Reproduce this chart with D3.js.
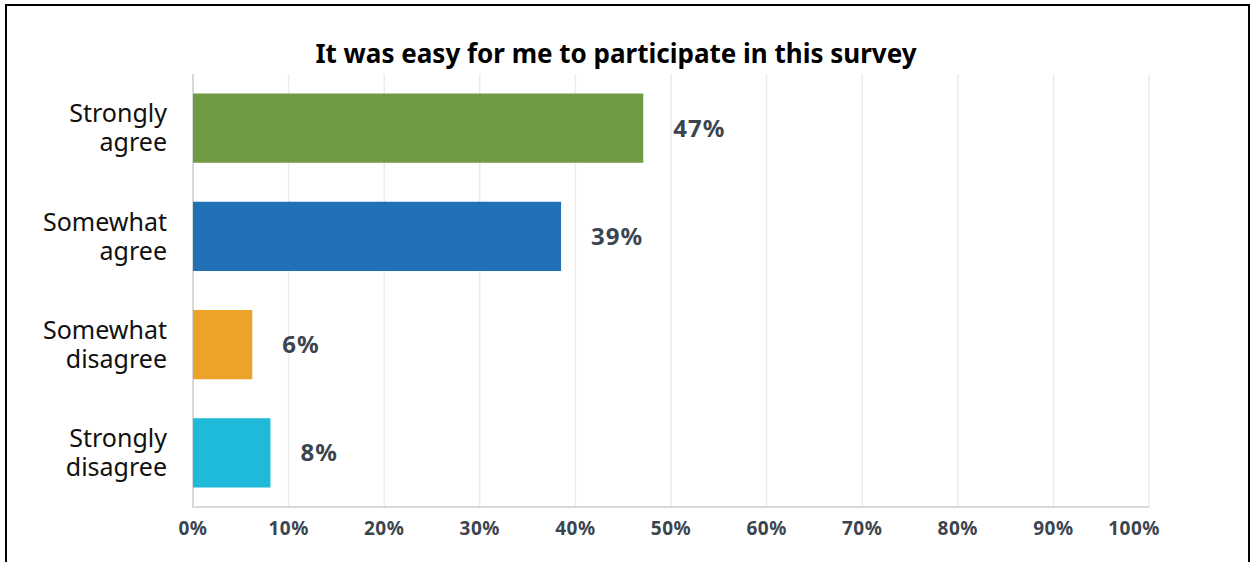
<!DOCTYPE html>
<html>
<head>
<meta charset="utf-8">
<script src="https://cdn.jsdelivr.net/npm/d3@7"></script>
<style>
  body { margin: 0; background: #fff; }
  svg { display: block; }
</style>
</head>
<body>
<div id="chart"></div>
<script>
// survey answers, top to bottom
var categories = ['Strongly agree', 'Somewhat agree', 'Somewhat disagree', 'Strongly disagree'];
var values = [47.1, 38.5, 6.2, 8.1];
var valueLabels = ['47%', '39%', '6%', '8%'];
var colors = ['#709a43', '#2270b5', '#eba428', '#1fbad9'];
var ticks = [0, 10, 20, 30, 40, 50, 60, 70, 80, 90, 100];

var W = 1255, H = 562;
var plotLeft = 193, plotRight = 1149, plotTop = 74, plotBottom = 507;

var svg = d3.select('#chart').append('svg').attr('width', W).attr('height', H);

// frame
svg.append('path')
    .attr('d', 'M6,' + H + 'V5H1249V' + H)
    .attr('fill', 'none').attr('stroke', '#000').attr('stroke-width', 2);

var x = d3.scaleLinear().domain([0, 100]).range([plotLeft, plotRight]);
var y = d3.scaleBand().domain(categories).range([plotTop, plotBottom]).paddingInner(0.36).paddingOuter(0.18);

// grid
svg.append('g').selectAll('line').data(ticks.slice(1)).enter().append('line')
    .attr('x1', function(d) { return x(d); }).attr('x2', function(d) { return x(d); })
    .attr('y1', plotTop).attr('y2', plotBottom)
    .attr('stroke', '#ebebeb').attr('stroke-width', 1.5);

// axis lines
svg.append('line').attr('x1', plotLeft).attr('x2', plotLeft).attr('y1', plotTop).attr('y2', plotBottom + 1)
    .attr('stroke', '#d9d9d9').attr('stroke-width', 2);
svg.append('line').attr('x1', plotLeft).attr('x2', plotRight).attr('y1', plotBottom).attr('y2', plotBottom)
    .attr('stroke', '#d9d9d9').attr('stroke-width', 2);

// bars
svg.append('g').selectAll('rect').data(values).enter().append('rect')
    .attr('x', x(0))
    .attr('y', function(d, i) { return y(categories[i]); })
    .attr('width', function(d) { return x(d) - x(0); })
    .attr('height', y.bandwidth())
    .attr('fill', function(d, i) { return colors[i]; });

// value labels
svg.append('g').selectAll('text').data(values).enter().append('text')
    .attr('x', function(d) { return x(d) + 30; })
    .attr('y', function(d, i) { return y(categories[i]) + y.bandwidth() / 2; })
    .attr('dy', '0.35em')
    .style('font-family', '"Noto Sans", sans-serif')
    .style('font-weight', 'bold').style('font-size', '24px').style('letter-spacing', '1px')
    .style('fill', '#3b4550')
    .text(function(d, i) { return valueLabels[i]; });

// category labels (two lines)
var cat = svg.append('g').selectAll('text').data(categories).enter().append('text')
    .attr('text-anchor', 'end')
    .attr('transform', function(d) { return 'translate(167,' + (y(d) + y.bandwidth() / 2) + ')'; })
    .style('font-family', '"Noto Sans", sans-serif')
    .style('font-size', '25px').style('fill', '#111');
cat.each(function(d) {
    var words = d.split(' ');
    var t = d3.select(this);
    t.append('tspan').attr('x', 0).attr('y', -14.5).attr('dy', '0.35em').text(words[0]);
    t.append('tspan').attr('x', 0).attr('y', 14.5).attr('dy', '0.35em').text(words[1]);
});

// x axis tick labels (last one pulled inside)
svg.append('g').selectAll('text').data(ticks).enter().append('text')
    .attr('x', function(d, i) { return i === ticks.length - 1 ? x(d) + 11 : x(d); })
    .attr('y', 528).attr('dy', '0.35em')
    .attr('text-anchor', function(d, i) { return i === ticks.length - 1 ? 'end' : 'middle'; })
    .style('font-family', '"Noto Sans", sans-serif')
    .style('font-weight', 'bold').style('font-size', '19px').style('letter-spacing', '0.5px')
    .style('fill', '#3b4550')
    .text(function(d) { return d + '%'; });

// title
svg.append('text')
    .attr('x', 616).attr('y', 63)
    .attr('text-anchor', 'middle')
    .style('font-family', '"Noto Sans", sans-serif')
    .style('font-weight', 'bold').style('font-size', '26px').style('fill', '#000')
    .text('It was easy for me to participate in this survey');
</script>
</body>
</html>
